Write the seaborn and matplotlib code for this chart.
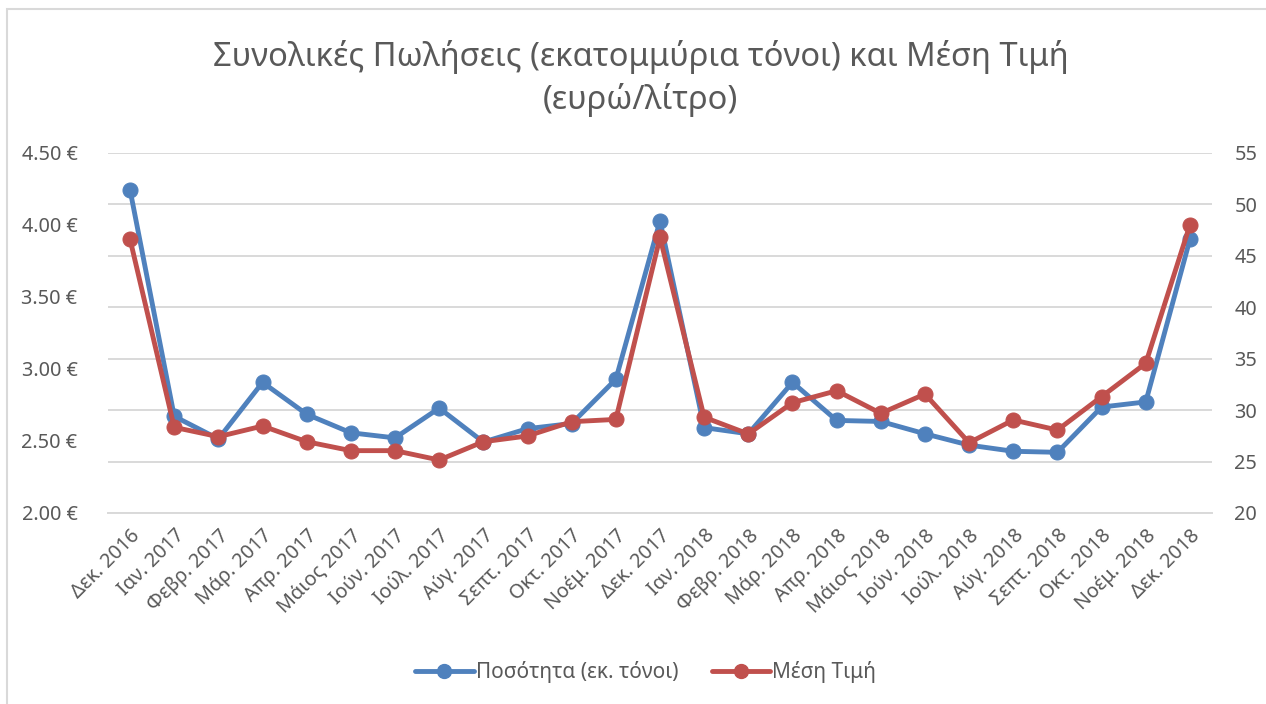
import pandas as pd
import numpy as np
import matplotlib
matplotlib.use("Agg")
import matplotlib.pyplot as plt
import seaborn as sns
from matplotlib.ticker import FuncFormatter, FixedLocator
from matplotlib.lines import Line2D
from matplotlib.patches import Rectangle

# data
months = ["Δεκ. 2016", "Ιαν. 2017", "Φεβρ. 2017", "Μάρ. 2017", "Απρ. 2017", "Μάιος 2017",
          "Ιούν. 2017", "Ιούλ. 2017", "Αύγ. 2017", "Σεπτ. 2017", "Οκτ. 2017", "Νοέμ. 2017",
          "Δεκ. 2017", "Ιαν. 2018", "Φεβρ. 2018", "Μάρ. 2018", "Απρ. 2018", "Μάιος 2018",
          "Ιούν. 2018", "Ιούλ. 2018", "Αύγ. 2018", "Σεπτ. 2018", "Οκτ. 2018", "Νοέμ. 2018",
          "Δεκ. 2018"]
quantity = [51.4, 29.4, 27.2, 32.7, 29.6, 27.8, 27.3, 30.2, 26.9, 28.2, 28.7, 33.0,
            48.4, 28.3, 27.7, 32.7, 29.0, 28.9, 27.7, 26.6, 26.0, 25.9, 30.3, 30.8, 46.6]
price = [3.90, 2.595, 2.53, 2.604, 2.495, 2.433, 2.433, 2.368, 2.495, 2.535, 2.634, 2.65,
         3.914, 2.665, 2.549, 2.766, 2.849, 2.692, 2.826, 2.488, 2.646, 2.576, 2.808, 3.04, 4.0]

df = pd.DataFrame({"Μήνας": months, "Ποσότητα": quantity, "Τιμή": price})
df["pos"] = np.arange(len(df))

sns.set_theme(style="white")
plt.rcParams['font.family'] = ['Noto Sans', 'DejaVu Sans']

blue = "#4F81BD"
red = "#C0504D"
grey_txt = "#595959"
grid_c = "#D9D9D9"

fig = plt.figure(figsize=(12.66, 7.04), dpi=100)
ax = fig.add_axes([108/1266, 1-513/704, 1104/1266, 360/704])
ax2 = ax.twinx()

# price on the left axis, quantity on the right
sns.lineplot(data=df, x="pos", y="Τιμή", ax=ax, color=red, linewidth=3.5, marker="o",
             markersize=10.8, markeredgecolor=red, sort=False, zorder=3)
sns.lineplot(data=df, x="pos", y="Ποσότητα", ax=ax2, color=blue, linewidth=3.5, marker="o",
             markersize=10.8, markeredgecolor=blue, sort=False, zorder=3)
# keep red drawn above blue
ax.set_zorder(2)
ax2.set_zorder(1)
ax.patch.set_visible(False)

ax.set_ylim(2.0, 4.5)
ax2.set_ylim(20, 55)
ax.set_xlim(-0.5, len(months) - 0.5)

ax.set_yticks(np.arange(2.0, 4.51, 0.5))
ax.yaxis.set_major_formatter(FuncFormatter(lambda v, p: f"{v:.2f} €"))
ax2.set_yticks(np.arange(20, 56, 5))

ax.grid(False)
ax2.grid(axis="y", color=grid_c, linewidth=1.4)
ax2.set_axisbelow(True)

ax.set_xticks(df["pos"])
ax.set_xticklabels(months, rotation=45, ha="right", rotation_mode="anchor")
ax.xaxis.set_minor_locator(FixedLocator(np.arange(-0.5, len(months), 1)))
ax.tick_params(axis="x", which="major", length=0, pad=9, labelsize=14.3, labelcolor=grey_txt)
ax.tick_params(axis="x", which="minor", length=6, width=1.2, color=grid_c, direction="out")
ax.tick_params(axis="y", length=0, labelsize=14.3, labelcolor=grey_txt, pad=22)
ax2.tick_params(axis="y", length=0, labelsize=14.3, labelcolor=grey_txt, pad=16)

for a in (ax, ax2):
    for s in ("top", "left", "right"):
        a.spines[s].set_visible(False)
    a.spines["bottom"].set_color(grid_c)
    a.spines["bottom"].set_linewidth(1.4)
    a.set_xlabel("")
    a.set_ylabel("")
ax2.spines["bottom"].set_visible(False)

fig.text(0.506, 1-57/704, "Συνολικές Πωλήσεις (εκατομμύρια τόνοι) και Μέση Τιμή",
         ha="center", va="center", fontsize=23.5, color=grey_txt)
fig.text(0.506, 1-100/704, "(ευρώ/λίτρο)", ha="center", va="center", fontsize=23.5, color=grey_txt)

handles = [Line2D([], [], color=blue, linewidth=3.5, marker="o", markersize=10),
           Line2D([], [], color=red, linewidth=3.5, marker="o", markersize=10)]
fig.legend(handles, ["Ποσότητα (εκ. τόνοι)", "Μέση Τιμή"], loc="center",
           bbox_to_anchor=(0.51, 1-672/704), ncol=2, frameon=False, fontsize=15,
           labelcolor=grey_txt, handlelength=2.8, handletextpad=0.1, columnspacing=1.6)

fig.patches.append(Rectangle((7/1266, -0.1), 1.2, 1 - 9/704 + 0.1, transform=fig.transFigure,
                             fill=False, edgecolor="#D9D9D9", linewidth=1.5))

fig.savefig("out.png", dpi=100)
